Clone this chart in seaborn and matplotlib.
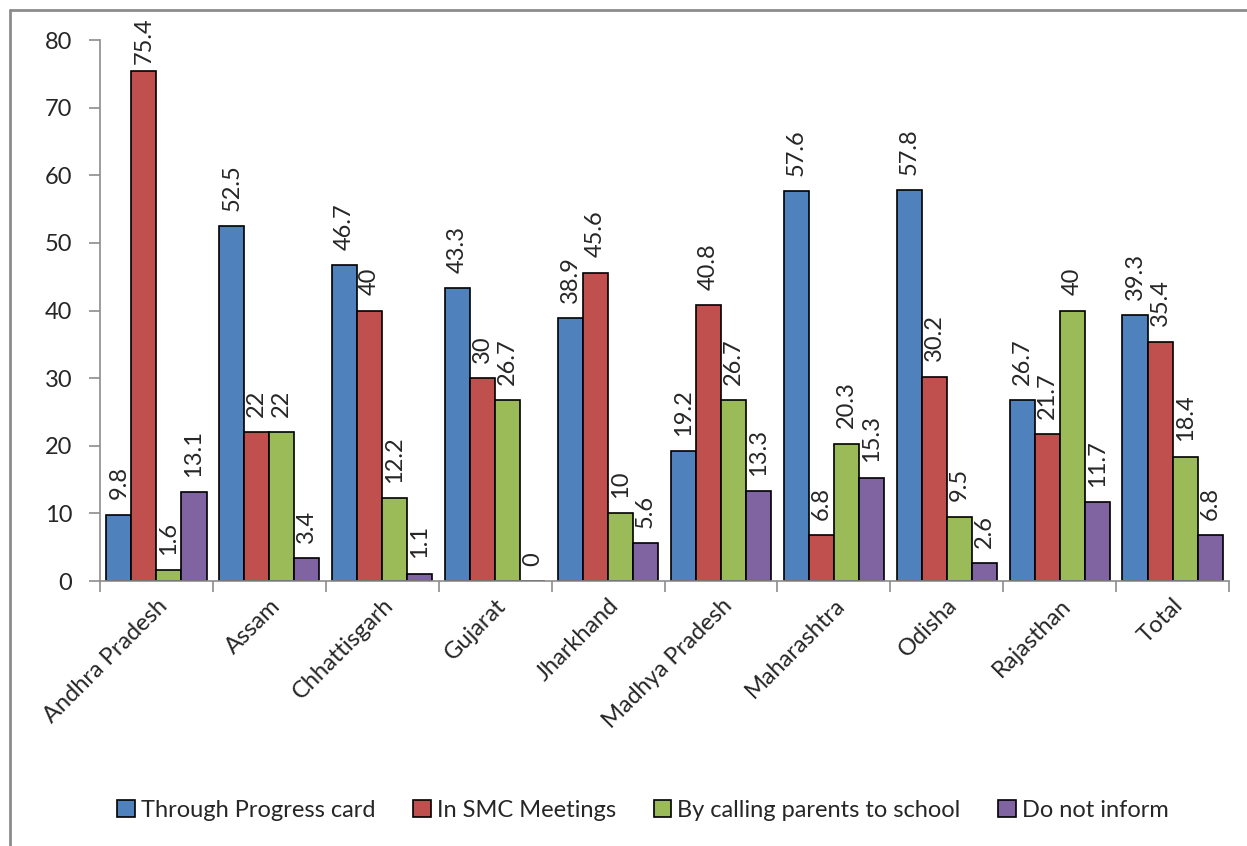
import numpy as np
import pandas as pd
import matplotlib
matplotlib.use("Agg")
import matplotlib.pyplot as plt
import matplotlib.transforms as mtransforms
import seaborn as sns
from matplotlib.lines import Line2D

states = ["Andhra Pradesh", "Assam", "Chhattisgarh", "Gujarat", "Jharkhand",
          "Madhya Pradesh", "Maharashtra", "Odisha", "Rajasthan", "Total"]
methods = ["Through Progress card", "In SMC Meetings",
           "By calling parents to school", "Do not inform"]
progress_card = [9.8, 52.5, 46.7, 43.3, 38.9, 19.2, 57.6, 57.8, 26.7, 39.3]
smc_meetings = [75.4, 22, 40, 30, 45.6, 40.8, 6.8, 30.2, 21.7, 35.4]
calling_parents = [1.6, 22, 12.2, 26.7, 10, 26.7, 20.3, 9.5, 40, 18.4]
do_not_inform = [13.1, 3.4, 1.1, 0, 5.6, 13.3, 15.3, 2.6, 11.7, 6.8]
colors = ["#4F81BD", "#C0504D", "#9BBB59", "#8064A2"]
y_ticks = [0, 10, 20, 30, 40, 50, 60, 70, 80]

series = [progress_card, smc_meetings, calling_parents, do_not_inform]
df = pd.DataFrame({
    "State": np.repeat([states], 4, axis=0).ravel(),
    "Method": np.repeat(methods, len(states)),
    "Value": np.concatenate(series),
})

sns.set_style("white")
plt.rcParams["font.family"] = ["Lato", "DejaVu Sans"]
FS = 17

fig = plt.figure(figsize=(12.47, 8.46), dpi=100)
ax = fig.add_axes([100 / 1247, 1 - 581 / 846, (1229 - 100) / 1247, (581 - 40) / 846])

sns.barplot(data=df, x="State", y="Value", hue="Method", order=states,
            hue_order=methods, palette=colors, edgecolor="black", linewidth=1.2,
            width=0.887, gap=0, ax=ax, errorbar=None, saturation=1)

for cont in ax.containers:
    for bar in cont:
        h = bar.get_height()
        pad = 5 if h > 70 else 11
        ax.annotate(f"{h:g}", (bar.get_x() + bar.get_width() / 2, h),
                    xytext=(0, pad), textcoords="offset points",
                    rotation=90, ha="center", va="bottom", fontsize=FS)

ax.set_ylim(0, 80)
ax.set_xlim(-0.5, len(states) - 0.5)
ax.set_yticks(y_ticks)
ax.set_xlabel("")
ax.set_ylabel("")
ax.set_xticks(range(len(states)))
ax.set_xticklabels(states, rotation=45, ha="right", rotation_mode="anchor", fontsize=FS)
shift = mtransforms.ScaledTranslation(10 / 100, 0, fig.dpi_scale_trans)
for lab in ax.get_xticklabels():
    lab.set_transform(lab.get_transform() + shift)
ax.set_xticks(np.arange(-0.5, len(states), 1), minor=True)
ax.tick_params(axis="x", which="major", length=0, pad=10)
ax.tick_params(axis="x", which="minor", length=8, color="#8c8c8c", width=1.2, direction="out", bottom=True)
ax.tick_params(axis="y", length=8, color="#8c8c8c", width=1.2, direction="out", labelsize=FS, pad=12, left=True)
for s in ["top", "right"]:
    ax.spines[s].set_visible(False)
for s in ["left", "bottom"]:
    ax.spines[s].set_color("#8c8c8c")
    ax.spines[s].set_linewidth(1.2)

handles, labels = ax.get_legend_handles_labels()
ax.legend_.remove()
fig.legend(handles, labels, loc="center", bbox_to_anchor=(643 / 1247, 1 - 810 / 846),
           ncol=4, frameon=False, fontsize=FS, handlelength=0.75, handleheight=0.75,
           handletextpad=0.25, columnspacing=1.6)

fig.add_artist(Line2D([10 / 1247, 1], [1 - 10.5 / 846, 1 - 10.5 / 846],
                      transform=fig.transFigure, color="#8c8c8c", lw=2))
fig.add_artist(Line2D([10 / 1247, 10 / 1247], [0, 1 - 10.5 / 846],
                      transform=fig.transFigure, color="#8c8c8c", lw=2))

fig.savefig("out.png", dpi=100)
